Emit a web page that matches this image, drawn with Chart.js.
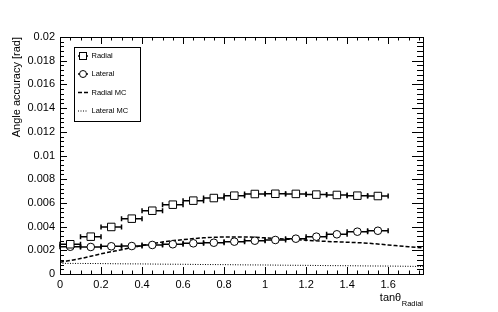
<!DOCTYPE html>
<html>
<head>
<meta charset="utf-8">
<script src="https://cdn.jsdelivr.net/npm/chart.js@4.4.0/dist/chart.umd.min.js"></script>
<style>
  html, body { margin: 0; padding: 0; background: #fff; }
  #wrap { width: 498px; height: 312px; }
</style>
</head>
<body>
<div id="wrap"><canvas id="c" width="498" height="312"></canvas></div>
<script>
// bin centres of the measured points (each bin is 0.1 wide)
const binCenters = [0.05, 0.15, 0.25, 0.35, 0.45, 0.55, 0.65, 0.75, 0.85, 0.95, 1.05, 1.15, 1.25, 1.35, 1.45, 1.55];
const binHalfWidth = 0.05;
const radialVals  = [0.00251, 0.00315, 0.00397, 0.00467, 0.00534, 0.00585, 0.00619, 0.00641, 0.00661, 0.00675, 0.00677, 0.00676, 0.00670, 0.00667, 0.00661, 0.00658];
const lateralVals = [0.00230, 0.00228, 0.00234, 0.00236, 0.00245, 0.00251, 0.00259, 0.00264, 0.00273, 0.00281, 0.00287, 0.00298, 0.00315, 0.00335, 0.00357, 0.00365];

// MC expectation curves
const mcX       = [0, 0.1, 0.2, 0.3, 0.4, 0.5, 0.6, 0.7, 0.8, 0.9, 1.0, 1.1, 1.2, 1.3, 1.4, 1.5, 1.6, 1.7, 1.77];
const radialMC  = [0.00100, 0.00130, 0.00170, 0.00205, 0.00240, 0.00270, 0.00290, 0.00305, 0.00312, 0.00312, 0.00305, 0.00295, 0.00285, 0.00275, 0.00268, 0.00260, 0.00245, 0.00230, 0.00220];
const lateralMC = [0.00090, 0.00089, 0.00088, 0.00086, 0.00085, 0.00083, 0.00082, 0.00080, 0.00079, 0.00077, 0.00076, 0.00074, 0.00073, 0.00071, 0.00070, 0.00068, 0.00067, 0.00065, 0.00063];

const xTicks = [0, 0.2, 0.4, 0.6, 0.8, 1, 1.2, 1.4, 1.6];
const yTicks = [0, 0.002, 0.004, 0.006, 0.008, 0.01, 0.012, 0.014, 0.016, 0.018, 0.02];
const xMax = 1.77;
const yMax = 0.02;

const FONT = "'Liberation Sans', Arial, Helvetica, sans-serif";

const pts = (xs, ys) => xs.map((x, i) => ({ x: x, y: ys[i] }));

// horizontal error bars under the markers
const errorBars = {
  id: 'errorBars',
  beforeDatasetsDraw(chart) {
    const ctx = chart.ctx;
    const xs = chart.scales.x, ys = chart.scales.y;
    ctx.save();
    ctx.strokeStyle = '#000';
    ctx.lineWidth = 1.5;
    chart.data.datasets.forEach(ds => {
      if (!ds.xerr) return;
      ds.data.forEach(p => {
        const x0 = xs.getPixelForValue(p.x - ds.xerr);
        const x1 = xs.getPixelForValue(p.x + ds.xerr);
        const y = ys.getPixelForValue(p.y);
        ctx.beginPath();
        ctx.moveTo(x0, y); ctx.lineTo(x1, y);
        ctx.moveTo(x0, y - 2.5); ctx.lineTo(x0, y + 2.5);
        ctx.moveTo(x1, y - 2.5); ctx.lineTo(x1, y + 2.5);
        ctx.stroke();
      });
    });
    ctx.restore();
  }
};

// ROOT-like frame with inward ticks on all four sides, x title and legend
const frame = {
  id: 'frame',
  afterDraw(chart) {
    const ctx = chart.ctx;
    const a = chart.chartArea;
    const xs = chart.scales.x, ys = chart.scales.y;
    ctx.save();
    ctx.strokeStyle = '#000';
    ctx.lineWidth = 1;
    ctx.strokeRect(Math.round(a.left) + 0.5, Math.round(a.top) + 0.5,
                   Math.round(a.right - a.left), Math.round(a.bottom - a.top));

    ctx.beginPath();
    for (let v = 0; v <= xMax + 1e-9; v += 0.05) {
      const major = Math.abs(v / 0.2 - Math.round(v / 0.2)) < 1e-6;
      const len = major ? 7 : 3.5;
      const px = Math.round(xs.getPixelForValue(v)) + 0.5;
      ctx.moveTo(px, a.bottom); ctx.lineTo(px, a.bottom - len);
      ctx.moveTo(px, a.top); ctx.lineTo(px, a.top + len);
    }
    for (let v = 0; v <= yMax + 1e-9; v += 0.0004) {
      const major = Math.abs(v / 0.002 - Math.round(v / 0.002)) < 1e-6;
      const py = Math.round(ys.getPixelForValue(v)) + 0.5;
      ctx.moveTo(a.left, py); ctx.lineTo(a.left + (major ? 7 : 4), py);
      ctx.moveTo(a.right, py); ctx.lineTo(a.right - (major ? 11 : 6), py);
    }
    ctx.stroke();

    // x title: tan theta with subscript
    ctx.fillStyle = '#000';
    ctx.textBaseline = 'alphabetic';
    ctx.font = '7.5px ' + FONT;
    const sub = 'Radial';
    const subW = ctx.measureText(sub).width;
    ctx.textAlign = 'right';
    ctx.fillText(sub, a.right, 306);
    ctx.font = '11px ' + FONT;
    ctx.fillText('tanθ', a.right - subW - 0.5, 301);

    // legend
    ctx.lineWidth = 1;
    ctx.strokeRect(74.5, 47.5, 66, 74);
    const rows = [47 + 9, 47 + 27, 47 + 45.5, 47 + 64];
    ctx.font = '7.5px ' + FONT;
    ctx.textAlign = 'left';
    ctx.textBaseline = 'middle';
    chart.data.datasets.forEach((ds, i) => {
      const y = rows[i];
      ctx.save();
      ctx.strokeStyle = '#000';
      ctx.lineWidth = ds.xerr ? 1.5 : ds.borderWidth;
      ctx.setLineDash(ds.borderDash || []);
      ctx.beginPath();
      ctx.moveTo(78, y); ctx.lineTo(88, y);
      ctx.stroke();
      ctx.setLineDash([]);
      if (ds.pointStyle === 'rect') {
        ctx.fillStyle = '#fff';
        ctx.lineWidth = 1;
        ctx.fillRect(79.5, y - 3.5, 7, 7);
        ctx.strokeRect(79.5, y - 3.5, 7, 7);
      } else if (ds.pointStyle === 'circle') {
        ctx.fillStyle = '#fff';
        ctx.lineWidth = 1;
        ctx.beginPath();
        ctx.arc(83, y, 3.5, 0, Math.PI * 2);
        ctx.fill(); ctx.stroke();
      }
      ctx.restore();
      ctx.fillText(ds.label, 91.5, y);
    });
    ctx.restore();
  }
};

new Chart(document.getElementById('c'), {
  type: 'scatter',
  data: {
    datasets: [
      {
        label: 'Radial',
        data: pts(binCenters, radialVals),
        xerr: binHalfWidth,
        pointStyle: 'rect',
        pointRadius: 5.3,
        pointBackgroundColor: '#fff',
        pointBorderColor: '#000',
        pointBorderWidth: 1,
        showLine: false
      },
      {
        label: 'Lateral',
        data: pts(binCenters, lateralVals),
        xerr: binHalfWidth,
        pointStyle: 'circle',
        pointRadius: 3.8,
        pointBackgroundColor: '#fff',
        pointBorderColor: '#000',
        pointBorderWidth: 1,
        showLine: false
      },
      {
        label: 'Radial MC',
        data: pts(mcX, radialMC),
        showLine: true,
        pointRadius: 0,
        borderColor: '#000',
        borderWidth: 1.5,
        borderDash: [4, 2],
        cubicInterpolationMode: 'monotone'
      },
      {
        label: 'Lateral MC',
        data: pts(mcX, lateralMC),
        showLine: true,
        pointRadius: 0,
        borderColor: '#000',
        borderWidth: 1,
        borderDash: [1, 1.5],
        cubicInterpolationMode: 'monotone'
      }
    ]
  },
  options: {
    responsive: false,
    animation: false,
    devicePixelRatio: 1,
    layout: { padding: { top: 37, right: 75, left: 0, bottom: 0 } },
    plugins: { legend: { display: false }, tooltip: { enabled: false } },
    scales: {
      x: {
        type: 'linear',
        min: 0,
        max: xMax,
        grid: { display: false, drawTicks: false },
        border: { display: false },
        afterBuildTicks: s => { s.ticks = xTicks.map(v => ({ value: v })); },
        afterFit: s => { s.height = 38; },
        ticks: {
          color: '#000',
          padding: 4,
          maxRotation: 0,
          font: { family: FONT, size: 11 },
          callback: v => String(v)
        }
      },
      y: {
        min: 0,
        max: yMax,
        grid: { display: false, drawTicks: false },
        border: { display: false },
        afterBuildTicks: s => { s.ticks = yTicks.map(v => ({ value: v })); },
        afterFit: s => { s.width = 60; },
        ticks: {
          color: '#000',
          padding: 5,
          font: { family: FONT, size: 11 },
          callback: v => v === 0 ? '0' : String(parseFloat(v.toFixed(4)))
        },
        title: {
          display: true,
          text: 'Angle accuracy [rad]',
          align: 'end',
          color: '#000',
          font: { family: FONT, size: 11 },
          padding: { top: 10, bottom: 0 }
        }
      }
    }
  },
  plugins: [errorBars, frame]
});
</script>
</body>
</html>
